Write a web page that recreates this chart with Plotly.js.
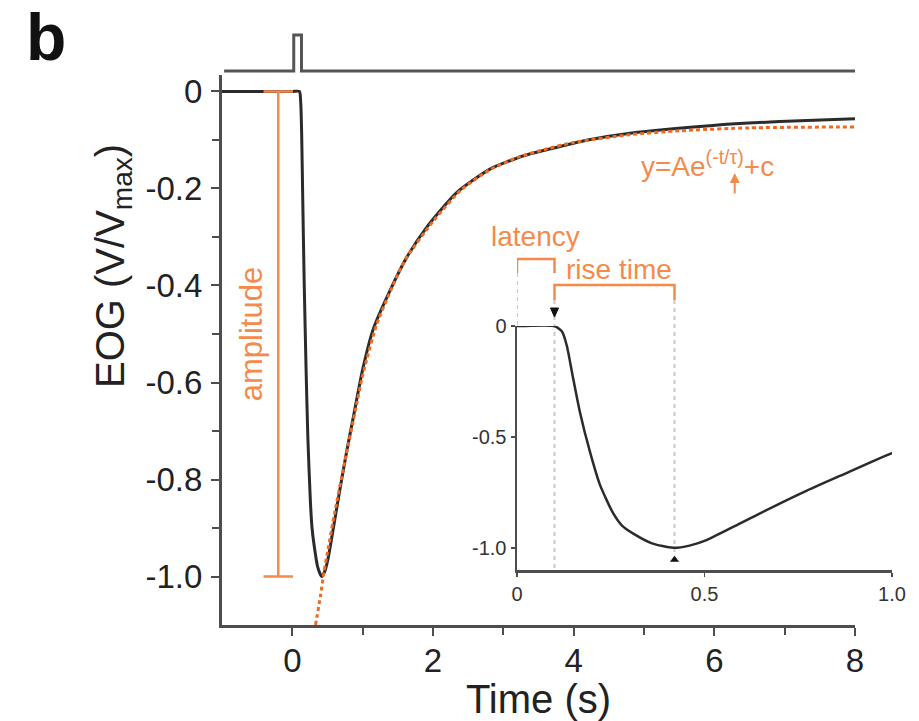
<!DOCTYPE html>
<html>
<head>
<meta charset="utf-8">
<script src="https://cdn.plot.ly/plotly-3.0.1.min.js"></script>
<style>html,body{margin:0;padding:0;background:#fff;}#chart{width:919px;height:721px;}</style>
</head>
<body>
<div id="chart"></div>
<script>
// ---- data ----
// EOG response (normalised), time in s
const eogTime = [-1, 0, 0.1, 0.12, 0.133, 0.149, 0.168, 0.195, 0.221, 0.256, 0.28, 0.309, 0.36, 0.416, 0.46, 0.507, 0.595, 0.683, 0.773, 0.861, 1.0, 1.15, 1.39, 1.63, 1.92, 2.34, 2.81, 3.3, 3.62, 4.2, 4.8, 5.98, 6.93, 8.0];
const eogValue = [0, 0, 0, -0.025, -0.09, -0.23, -0.39, -0.57, -0.715, -0.843, -0.9, -0.935, -0.98, -1.0, -0.99, -0.964, -0.89, -0.815, -0.742, -0.676, -0.573, -0.49, -0.41, -0.341, -0.278, -0.208, -0.16, -0.132, -0.12, -0.1, -0.086, -0.07, -0.062, -0.056];
// exponential fit y = A e^(-t/tau) + c (dotted)
const fitTime = [0.33, 0.40, 0.45, 0.5, 0.6, 0.75, 0.9, 1.0, 1.2, 1.4, 1.6, 2.0, 2.4, 2.8, 3.2, 3.6, 4.0, 4.8, 5.5, 6.5, 8.0];
const fitValue = [-1.1, -1.04, -0.99, -0.95, -0.87, -0.76, -0.655, -0.585, -0.48, -0.41, -0.348, -0.268, -0.203, -0.162, -0.136, -0.119, -0.105, -0.089, -0.081, -0.075, -0.073];
// stimulus pulse
const stimTime = [-0.97, 0.02, 0.02, 0.13, 0.13, 8.0];
const stimValue = [0, 0, 1, 1, 0, 0];
// tick labels
const mainXTicks = [0, 2, 4, 6, 8];
const mainXMinor = [1, 3, 5, 7];
const mainYTicks = [0, -0.2, -0.4, -0.6, -0.8, -1.0];
const mainYLabels = ["0", "-0.2", "-0.4", "-0.6", "-0.8", "-1.0"];
const mainYMinor = [-0.1, -0.3, -0.5, -0.7, -0.9];
const insetXTicks = [0, 0.5, 1.0];
const insetXLabels = ["0", "0.5", "1.0"];
const insetYTicks = [0, -0.5, -1.0];
const insetYLabels = ["0", "-0.5", "-1.0"];
// annotated times
const latencyEnd = 0.1;
const peakTime = 0.42;
const amplitudeTop = 0, amplitudeBottom = -1.0;

// ---- layout geometry ----
const W = 919, H = 721;
const mL = 222, mR = 19, mT = 30, mB = 96;
const plotW = W - mL - mR;
const plotH = H - mT - mB;
const paperY = px => (H - mB - px) / plotH;
const paperX = px => (px - mL) / plotW;

const ORANGE = '#f58a4b';
const ORANGE_FIT = '#f06a24';
const AXC = '#4d4d4d';
const FONT = 'Liberation Sans, Arial, sans-serif';

const yDom = [0, paperY(75)];
const y2Dom = [paperY(570), paperY(326)];
const y3Dom = [paperY(101), 1];
const x2Dom = [paperX(517), paperX(892)];
const xDom = [0, paperX(855)];
const triHalf = 4 / 375; // half triangle width in inset time units

const traces = [
  {x: stimTime, y: stimValue, xaxis: 'x', yaxis: 'y3', mode: 'lines',
   line: {color: '#555555', width: 3}, hoverinfo: 'skip'},
  {x: eogTime, y: eogValue, xaxis: 'x', yaxis: 'y', mode: 'lines',
   line: {color: '#2b2b2b', width: 3, shape: 'spline', smoothing: 0.6}},
  {x: fitTime, y: fitValue, xaxis: 'x', yaxis: 'y', mode: 'lines',
   line: {color: ORANGE_FIT, width: 3, dash: '4px,3px', shape: 'spline', smoothing: 0.6}},
  {x: eogTime, y: eogValue, xaxis: 'x2', yaxis: 'y2', mode: 'lines',
   line: {color: '#2b2b2b', width: 2.5, shape: 'spline', smoothing: 0.6}},
  {x: [peakTime], y: [-1.054], xaxis: 'x2', yaxis: 'y2', mode: 'markers', cliponaxis: false,
   marker: {symbol: 'triangle-up', size: 8, color: '#111'}}
];

const tickFont = {family: FONT, size: 33, color: '#222'};
const insetFont = {family: FONT, size: 20, color: '#333'};

const grayDash = {color: '#c9c9c9', width: 2, dash: '4px,4px'};
const shapes = [
  // gray dashed guides in the inset
  {type: 'line', xref: 'x2', yref: 'paper', x0: 0, x1: 0, y0: paperY(273), y1: paperY(326), line: grayDash, layer: 'below'},
  {type: 'line', xref: 'x2', yref: 'paper', x0: latencyEnd, x1: latencyEnd, y0: paperY(300), y1: paperY(569), line: grayDash, layer: 'below'},
  {type: 'line', xref: 'x2', yref: 'paper', x0: peakTime, x1: peakTime, y0: paperY(300), y1: paperY(563), line: grayDash, layer: 'below'},
  // latency bracket
  {type: 'path', xref: 'x2', yref: 'paper',
   path: `M 0,${paperY(273)} L 0,${paperY(259)} L ${latencyEnd},${paperY(259)} L ${latencyEnd},${paperY(273)}`,
   line: {color: ORANGE, width: 2.5}},
  // rise-time bracket
  {type: 'path', xref: 'x2', yref: 'paper',
   path: `M ${latencyEnd},${paperY(300)} L ${latencyEnd},${paperY(285)} L ${peakTime},${paperY(285)} L ${peakTime},${paperY(300)}`,
   line: {color: ORANGE, width: 2.5}},
  // onset marker (down triangle)
  {type: 'path', xref: 'x2', yref: 'paper',
   path: `M ${latencyEnd - triHalf},${paperY(308)} L ${latencyEnd + triHalf},${paperY(308)} L ${latencyEnd},${paperY(317)} Z`,
   fillcolor: '#111', line: {color: '#111', width: 1}},
  // amplitude bracket
  {type: 'line', xref: 'x', yref: 'y', x0: -0.2, x1: -0.2, y0: amplitudeTop, y1: amplitudeBottom, line: {color: ORANGE, width: 2.5}},
  {type: 'line', xref: 'x', yref: 'y', x0: -0.41, x1: 0.01, y0: amplitudeTop, y1: amplitudeTop, line: {color: ORANGE, width: 2.5}},
  {type: 'line', xref: 'x', yref: 'y', x0: -0.41, x1: 0.01, y0: amplitudeBottom, y1: amplitudeBottom, line: {color: ORANGE, width: 2.5}}
];

const annotations = [
  {text: '<b>b</b>', xref: 'paper', yref: 'paper', x: paperX(46), y: paperY(37),
   showarrow: false, xanchor: 'center', yanchor: 'middle', font: {family: FONT, size: 66, color: '#111'}},
  {text: 'EOG (V/V<sub>max</sub>)', xref: 'paper', yref: 'paper', x: paperX(113), y: paperY(266),
   textangle: -90, showarrow: false, xanchor: 'center', yanchor: 'middle',
   font: {family: FONT, size: 40, color: '#222'}},
  {text: 'amplitude', xref: 'x', yref: 'y', x: -0.57, y: -0.5, textangle: -90, showarrow: false,
   font: {family: FONT, size: 31, color: ORANGE}},
  {text: 'y=Ae<sup>(-t/τ)</sup>+c', xref: 'x', yref: 'y', x: 5.9, y: -0.15, showarrow: false,
   font: {family: FONT, size: 28, color: ORANGE}},
  {text: '', xref: 'x', yref: 'y', x: 6.29, y: -0.168, ax: 0, ay: 22, showarrow: true,
   arrowhead: 2, arrowsize: 1, arrowwidth: 2, arrowcolor: ORANGE},
  {text: 'latency', xref: 'x2', yref: 'paper', x: 0.05, y: paperY(236), showarrow: false,
   font: {family: FONT, size: 28, color: ORANGE}},
  {text: 'rise time', xref: 'x2', yref: 'paper', x: 0.272, y: paperY(269), showarrow: false,
   font: {family: FONT, size: 28, color: ORANGE}}
];

const layout = {
  width: W, height: H,
  margin: {l: mL, r: mR, t: mT, b: mB},
  paper_bgcolor: '#fff', plot_bgcolor: 'rgba(0,0,0,0)',
  showlegend: false,
  font: {family: FONT, color: '#222'},
  xaxis: {domain: xDom, anchor: 'y', range: [-1, 8], showgrid: false, zeroline: false,
    showline: true, linecolor: AXC, linewidth: 3,
    ticks: 'outside', ticklen: 8, tickwidth: 2, tickcolor: AXC,
    tickvals: mainXTicks, ticktext: mainXTicks.map(String), tickfont: tickFont, ticklabelstandoff: -4,
    minor: {tickvals: mainXMinor, ticks: 'outside', ticklen: 7, tickwidth: 2, tickcolor: AXC},
    title: {text: 'Time (s)', font: {family: FONT, size: 40, color: '#222'}, standoff: 4}},
  yaxis: {domain: yDom, anchor: 'x', range: [-1.1, 0.034], showgrid: false, zeroline: false,
    showline: true, linecolor: AXC, linewidth: 3,
    ticks: 'outside', ticklen: 8, tickwidth: 2, tickcolor: AXC,
    tickvals: mainYTicks, ticktext: mainYLabels, tickfont: tickFont, ticklabelstandoff: 2,
    minor: {tickvals: mainYMinor, ticks: 'outside', ticklen: 7, tickwidth: 2, tickcolor: AXC}},
  yaxis3: {domain: y3Dom, anchor: 'x', range: [-0.833, 1.139], visible: false, showgrid: false, zeroline: false},
  xaxis2: {domain: x2Dom, anchor: 'y2', range: [0, 1], showgrid: false, zeroline: false,
    showline: true, linecolor: AXC, linewidth: 2.5,
    ticks: 'outside', ticklen: 4, tickwidth: 1.5, tickcolor: AXC,
    tickvals: insetXTicks, ticktext: insetXLabels, tickfont: insetFont},
  yaxis2: {domain: y2Dom, anchor: 'x2', range: [-1.1, 0], showgrid: false, zeroline: false,
    showline: true, linecolor: AXC, linewidth: 2.5,
    ticks: 'outside', ticklen: 4, tickwidth: 1.5, tickcolor: AXC,
    tickvals: insetYTicks, ticktext: insetYLabels, tickfont: insetFont},
  shapes: shapes,
  annotations: annotations
};

Plotly.newPlot('chart', traces, layout, {staticPlot: true, displayModeBar: false});
</script>
</body>
</html>
